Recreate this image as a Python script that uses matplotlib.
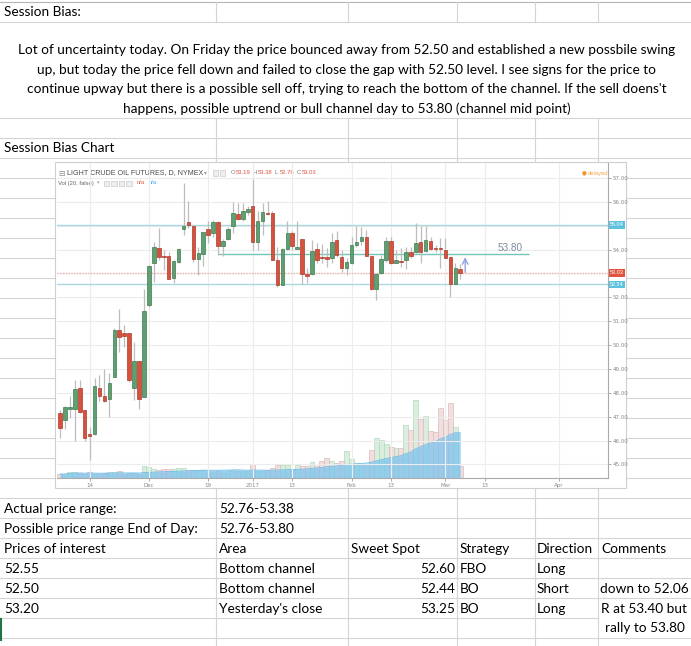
import numpy as np
import pandas as pd
import matplotlib
matplotlib.use("Agg")
import matplotlib.pyplot as plt
from matplotlib.patches import Rectangle
from matplotlib import transforms

# ---- data: light crude oil futures, daily bars from Nov 4 2016 to Mar 6 2017 ----
opens = [47.15, 46.87, 47.34, 47.34, 48.20, 47.29, 46.27, 46.29, 48.20, 47.88,
         47.76, 48.67, 50.63, 50.52, 50.52, 48.20, 49.32, 47.83, 51.68, 53.46,
         54.06, 53.74, 53.74, 52.80, 53.50, 54.87, 55.15, 55.01, 53.60, 53.82,
         54.86, 54.69, 55.15, 54.16, 54.45, 54.97, 55.49, 55.29, 55.56, 55.81,
         54.34, 55.18, 55.53, 55.53, 53.57, 52.52, 54.02, 54.69, 54.03, 54.44,
         52.98, 52.98, 54.02, 53.68, 53.68, 53.64, 54.41, 53.71, 53.25, 53.46,
         54.20, 54.37, 54.51, 53.74, 52.35, 53.01, 53.57, 54.37, 53.46, 53.54,
         53.57, 53.92, 53.92, 54.31, 53.95, 54.37, 54.06, 54.06, 53.99, 53.71,
         52.57, 53.19]
highs = [47.29, 47.45, 47.87, 48.55, 48.54, 47.30, 46.57, 48.60, 48.75, 49.00,
         48.83, 50.70, 51.50, 50.84, 50.52, 50.14, 49.33, 52.34, 53.35, 54.30,
         54.90, 53.99, 53.92, 53.57, 54.06, 56.79, 56.02, 55.01, 54.13, 54.72,
         55.21, 55.25, 55.21, 54.44, 54.93, 55.99, 55.95, 55.95, 55.81, 56.97,
         55.60, 55.95, 56.02, 55.60, 54.13, 54.05, 55.18, 54.76, 55.18, 54.45,
         53.22, 54.41, 54.27, 54.23, 54.06, 54.69, 54.76, 53.99, 53.64, 54.55,
         54.97, 54.93, 54.83, 53.75, 53.01, 53.78, 54.51, 54.51, 53.99, 54.06,
         54.13, 54.13, 55.11, 54.97, 54.97, 54.55, 54.20, 54.48, 54.48, 53.71,
         53.43, 53.38]
lows = [46.10, 46.50, 46.94, 45.96, 47.15, 45.96, 45.17, 46.25, 47.64, 47.62,
        46.97, 48.67, 49.72, 49.93, 48.46, 47.71, 47.34, 47.83, 51.58, 52.66,
        53.57, 53.15, 52.76, 52.59, 53.43, 54.62, 54.90, 53.50, 52.94, 53.33,
        54.27, 54.55, 53.78, 53.75, 54.41, 54.69, 55.25, 55.18, 55.46, 53.99,
        53.99, 54.62, 55.46, 53.57, 52.45, 52.50, 54.00, 53.99, 54.02, 52.55,
        52.59, 52.94, 53.43, 53.43, 53.29, 53.43, 53.71, 53.08, 52.94, 53.39,
        54.13, 54.20, 53.74, 52.31, 51.89, 52.97, 53.50, 53.39, 53.43, 53.29,
        53.19, 53.64, 53.85, 53.43, 53.92, 53.99, 53.92, 53.22, 53.64, 52.03,
        52.55, 52.76]
closes = [46.52, 47.41, 47.42, 48.18, 47.20, 46.10, 46.20, 48.29, 47.85, 47.64,
          48.43, 50.63, 50.35, 50.40, 48.55, 49.32, 47.76, 51.44, 53.32, 54.09,
          53.71, 53.68, 52.76, 53.53, 54.02, 54.97, 55.04, 53.60, 53.85, 54.72,
          54.62, 55.15, 54.16, 54.38, 54.87, 55.53, 55.29, 55.60, 55.70, 54.34,
          55.18, 55.56, 55.49, 53.57, 52.52, 54.02, 54.69, 54.16, 54.13, 52.98,
          52.91, 53.95, 53.57, 53.64, 53.62, 54.34, 53.78, 53.22, 53.47, 54.20,
          54.31, 54.55, 53.74, 52.34, 52.97, 53.61, 54.37, 53.43, 53.57, 53.50,
          53.89, 53.74, 54.27, 53.92, 54.39, 54.03, 54.02, 54.02, 53.67, 52.57,
          53.22, 53.03]
# volume (k contracts)
volume = [4, 4, 6, 6, 5, 4, 6, 4, 4, 5, 6, 6, 7, 4, 5, 5, 4, 12, 11, 9,
          8, 9, 9, 9, 10, 10, 8, 8, 8, 8, 5, 6, 7, 5, 7, 8, 7, 7, 7, 14,
          7, 7, 8, 10, 13, 13, 13, 8, 13, 12, 12, 16, 12, 17, 20, 17, 15, 17, 27, 19,
          15, 14, 14, 28, 40, 38, 34, 31, 30, 30, 53, 48, 78, 59, 62, 47, 46, 70, 58, 75,
          51, 12]

tick_idx = [6, 18, 30, 39, 47, 59, 67, 78, 86, 101]
tick_lbl = ["14", "Dec", "19", "2017", "13", "Feb", "13", "Mar", "13", "Apr"]
price_ticks = list(range(45, 58))

channel_top = 55.04
channel_bot = 52.54
last_close = 53.03
mid_level = 53.80

session_text = [
    "Lot of uncertainty today. On Friday the price bounced away from 52.50 and established a new possbile swing",
    "up, but today the price fell down and failed to close the gap with 52.50 level. I see signs for the price to",
    "continue upway but there is a possible sell off, trying to reach the bottom of the channel. If the sell doens't",
    "happens, possible uptrend or bull channel day to 53.80 (channel mid point)",
]
prices_of_interest = ["52.55", "52.50", "53.20"]
areas = ["Bottom channel", "Bottom channel", "Yesterday's close"]
sweet_spot = [52.60, 52.44, 53.25]
strategy = ["FBO", "BO", "BO"]
direction = ["Long", "Short", "Long"]

df = pd.DataFrame({"o": opens, "h": highs, "l": lows, "c": closes, "v": volume})
df["vma"] = df["v"].rolling(20, min_periods=1).mean()
x = np.arange(len(df))
up = df["c"] >= df["o"]

W, H = 691, 646
fig = plt.figure(figsize=(W / 100, H / 100), dpi=100)

# ---- spreadsheet layer (pixel coords) ----
sheet = fig.add_axes([0, 0, 1, 1])
sheet.set_zorder(-5)
sheet.set_xlim(0, W)
sheet.set_ylim(H, 0)
sheet.axis("off")

gc = "#d4d4d4"
rows = [2, 22, 118, 138, 158] + list(range(178, 646, 20))
cols = [216, 348, 457, 535, 598]
for y in rows:
    if y == 618:
        sheet.plot([0, 598], [y, y], color=gc, lw=0.8)
    else:
        sheet.plot([0, W], [y, y], color="#b5b5b5" if y == 2 else gc, lw=0.8)
for cx in cols:
    sheet.plot([cx, cx], [2, 22], color=gc, lw=0.8)
    sheet.plot([cx, cx], [118, H], color=gc, lw=0.8)
sheet.plot([1, 1], [619, 640], color="#217346", lw=1.5)

tf = dict(family="Lato", fontsize=9.8, color="black", va="center")
sheet.text(4, 12.5, "Session Bias:", **tf)
for i, line in enumerate(session_text):
    sheet.text(347, 50 + i * 19.7, line, ha="center", **tf)
sheet.text(4, 148.5, "Session Bias Chart", **tf)

sheet.text(4, 509, "Actual price range:", **tf)
sheet.text(219, 509, "52.76-53.38", **tf)
sheet.text(4, 529, "Possible price range End of Day:", **tf)
sheet.text(219, 529, "52.76-53.80", **tf)
for hx, h in zip([4, 219, 351, 460, 537, 601],
                 ["Prices of interest", "Area", "Sweet Spot", "Strategy", "Direction", "Comments"]):
    sheet.text(hx, 549, h, **tf)
for i in range(3):
    yy = 569 + i * 20
    sheet.text(4, yy, prices_of_interest[i], **tf)
    sheet.text(219, yy, areas[i], **tf)
    sheet.text(455, yy, f"{sweet_spot[i]:.2f}", ha="right", **tf)
    sheet.text(460, yy, strategy[i], **tf)
    sheet.text(537, yy, direction[i], **tf)
sheet.text(644, 589, "down to 52.06", ha="center", **tf)
sheet.text(644, 609, "R at 53.40 but", ha="center", **tf)
sheet.text(645, 628, "rally to 53.80", ha="center", **tf)

# chart picture frame + header
sheet.add_patch(Rectangle((55, 162), 571, 326, fc="white", ec="#cfcfcf", lw=0.8, zorder=3))
hf = dict(family="Liberation Sans", va="center", zorder=5)
sheet.text(58, 173, "\u229f", fontsize=5.5, color="#888888", family="DejaVu Sans", va="center", zorder=5)
sheet.text(67, 173, "LIGHT CRUDE OIL FUTURES, D, NYMEX", fontsize=5.1, color="#4a4a4a", **hf)
sheet.text(204, 173, "\u25be", fontsize=4, color="#999999", family="DejaVu Sans", va="center", zorder=5)
for sx in [213, 220]:
    sheet.add_patch(Rectangle((sx, 170), 5.5, 5.5, fc="#eeeeee", ec="#cccccc", lw=0.5, zorder=5))
ohlc = [("O", opens[-1]), ("H", highs[-1]), ("L", lows[-1]), ("C", closes[-1])]
ox = 231
for k, v in ohlc:
    sheet.text(ox, 173, k, fontsize=4.2, color="#777777", **hf)
    sheet.text(ox + 5, 173, f"{v:.2f}", fontsize=4.2, color="#e0533f", **hf)
    ox += 22
sheet.text(58, 183, "Vol (20, false)", fontsize=4.2, color="#666666", **hf)
sheet.text(97, 183, "\u25be", fontsize=3.5, color="#999999", family="DejaVu Sans", va="center", zorder=5)
for sx in [104, 111.5, 119, 126.5]:
    sheet.add_patch(Rectangle((sx, 180.5), 5.5, 5.5, fc="#eeeeee", ec="#cccccc", lw=0.5, zorder=5))
sheet.text(137, 183, "n/a", fontsize=4.2, color="#e0533f", **hf)
sheet.text(149, 183, "n/a", fontsize=4.2, color="#3fa9f5", **hf)
sheet.text(582, 173, "\u25cf", fontsize=4, color="#f7941d", family="DejaVu Sans", va="center", zorder=5)
sheet.text(588, 173, "delayed", fontsize=4.2, color="#f7a54a", **hf)

# ---- candle chart ----
px_l, px_r, px_t, px_b = 57, 608, 163, 478
rect = [px_l / W, (H - px_b) / H, (px_r - px_l) / W, (px_b - px_t) / H]
ax = fig.add_axes(rect)
ax.set_xlim(-0.6, 110.9)
ax.set_ylim(44.43, 57.63)

# volume pane (shares the bottom of the price pane)
vax = ax.twinx()
vax.set_ylim(0, px_b - px_t)
vax.axis("off")
vax.bar(x[up], df["v"][up], width=1.0, color="#d9eedd", edgecolor="#b3d9bd", lw=0.5)
vax.bar(x[~up], df["v"][~up], width=1.0, color="#f1dede", edgecolor="#dcbcbc", lw=0.5)
vax.fill_between(x, 0, df["vma"], color="#7cc4ee", alpha=0.75, lw=0)
vax.plot(x, df["vma"], color="#6cbbe9", lw=0.6)

ax.set_zorder(2)
vax.set_zorder(1)
vax.patch.set_facecolor("white")
vax.patch.set_visible(True)
ax.patch.set_visible(False)

ax.set_xticks(tick_idx, tick_lbl)
ax.set_yticks(price_ticks, [("" if p in (53, 55) else f"{p:.2f}") for p in price_ticks])
ax.grid(True, color="#ececec", lw=0.8, zorder=0)
ax.yaxis.tick_right()
ax.tick_params(axis="x", labelsize=4, colors="#888888", length=2, width=0.5, pad=1.5)
ax.tick_params(axis="y", labelsize=4, colors="#888888", length=2, width=0.5, pad=1.5)
for s in ["top", "left"]:
    ax.spines[s].set_visible(False)
for s in ["bottom", "right"]:
    ax.spines[s].set_color("#aaaaaa")
    ax.spines[s].set_linewidth(0.8)

# horizontal levels
ax.axhline(channel_top, color="#a9d8de", lw=1.0, zorder=2)
ax.axhline(channel_bot, color="#a9d8de", lw=1.0, zorder=2)
ax.axhline(last_close, color="#f0b5ad", lw=1.0, ls=(0, (1, 1)), zorder=2)
ax.hlines(mid_level, 32, 95, color="#74c6bb", lw=1.0, zorder=2)
ax.text(91, mid_level + 0.06, f"{mid_level:.2f}", fontsize=7.2, color="#7d8c9e",
        ha="center", va="bottom", family="Liberation Sans")
ax.annotate("", xy=(82, mid_level), xytext=(82, 52.93),
            arrowprops=dict(arrowstyle="->", color="#8ea2e2", lw=1.0), zorder=6)

# candles
body = (df["c"] - df["o"]).abs().clip(lower=0.04)
bottom = df[["o", "c"]].min(axis=1)
ax.vlines(x, df["l"], df["h"], color="#bdbdbd", lw=0.9, zorder=3)
ax.bar(x[up], body[up], bottom=bottom[up], width=0.72, color="#5f9f72",
       edgecolor="#3c7b4f", lw=0.5, zorder=4)
ax.bar(x[~up], body[~up], bottom=bottom[~up], width=0.72, color="#d7523e",
       edgecolor="#ad3a2b", lw=0.5, zorder=4)

# price tags on the right scale
tr = transforms.blended_transform_factory(ax.transAxes, ax.transData)
for lvl, col in [(channel_top, "#5cc3dc"), (last_close, "#e0533f"), (channel_bot, "#5cc3dc")]:
    ax.text(1.004, lvl, f"{lvl:.2f}", transform=tr, fontsize=4, color="white", va="center",
            ha="left", family="Liberation Sans", clip_on=False,
            bbox=dict(boxstyle="square,pad=0.25", fc=col, ec="none"))

fig.savefig("out.png", dpi=100)
